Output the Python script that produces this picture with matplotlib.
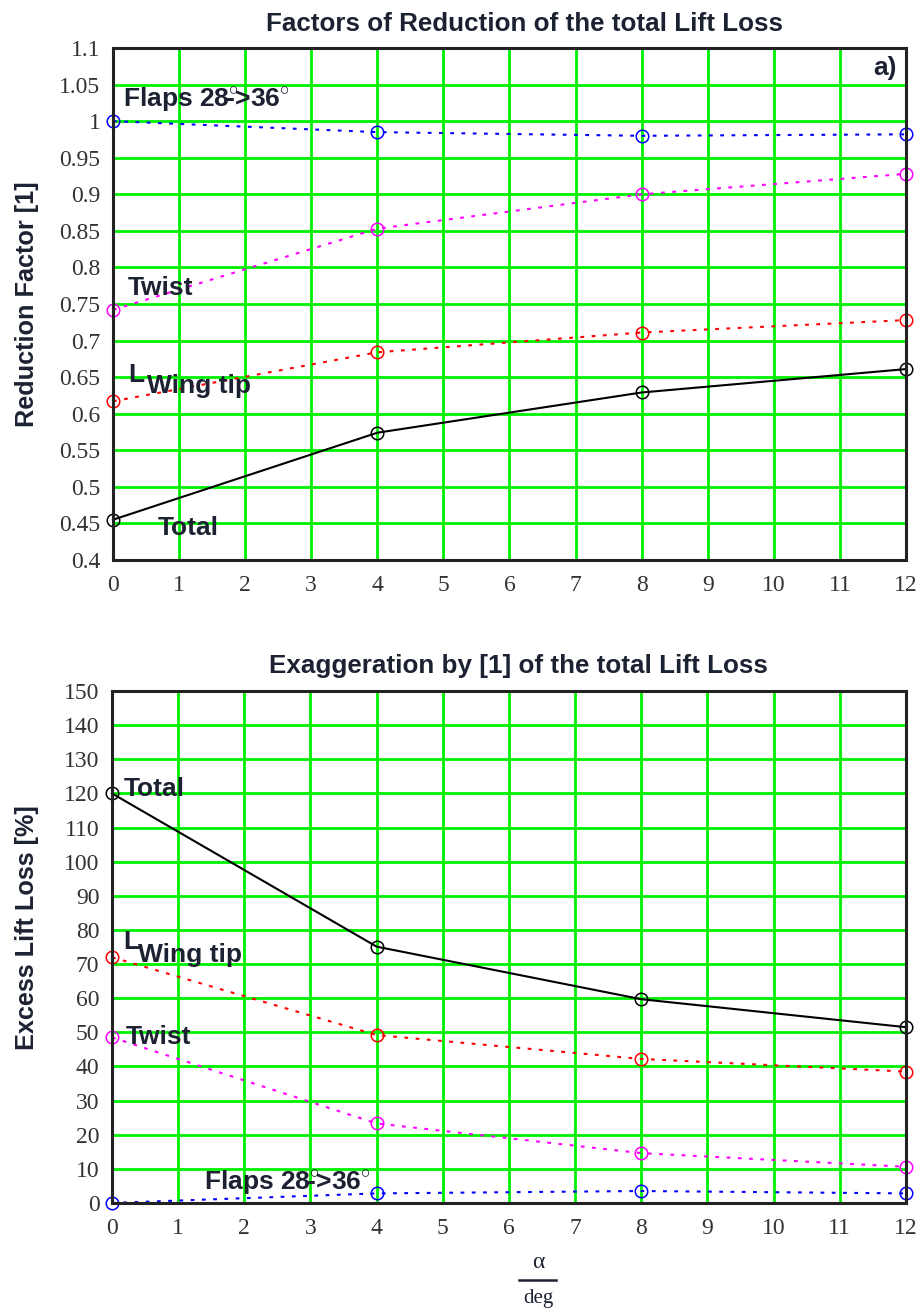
import matplotlib
matplotlib.use("Agg")
import matplotlib.pyplot as plt
from matplotlib.lines import Line2D

# Angle of attack [deg]
alpha = [0, 4, 8, 12]

# Reduction factors of the total lift loss
red_flaps = [1.000, 0.985, 0.980, 0.982]
red_twist = [0.742, 0.853, 0.900, 0.928]
red_tip = [0.617, 0.684, 0.711, 0.728]
red_total = [0.455, 0.574, 0.629, 0.661]

# Excess lift loss [%]
exc_total = [120.0, 75.1, 59.7, 51.5]
exc_tip = [72.0, 49.2, 42.2, 38.5]
exc_twist = [48.5, 23.3, 14.6, 10.6]
exc_flaps = [0.0, 2.8, 3.5, 2.8]

xticks = list(range(0, 13))
top_yticks = [0.4, 0.45, 0.5, 0.55, 0.6, 0.65, 0.7, 0.75, 0.8, 0.85, 0.9, 0.95, 1.0, 1.05, 1.1]
top_ylabels = ["0.4", "0.45", "0.5", "0.55", "0.6", "0.65", "0.7", "0.75", "0.8", "0.85",
               "0.9", "0.95", "1", "1.05", "1.1"]
bot_yticks = list(range(0, 151, 10))

TXT = "#1d2233"
TICK = "#333333"
GRID = "#00f000"
SANS = "Liberation Sans"
SERIF = "Liberation Serif"
W, H = 924, 1316

plt.rcParams["mathtext.fontset"] = "custom"
plt.rcParams["mathtext.rm"] = "Liberation Sans:bold"

fig = plt.figure(figsize=(W / 100, H / 100), dpi=100)
ax1 = fig.add_axes([0.1223, 0.5745, 0.8582, 0.3890])
ax2 = fig.add_axes([0.1212, 0.0859, 0.8593, 0.3890])

dot = (0, (1.8, 3.6))
# small raised degree marks that overlap the following characters
FLAPS = r"Flaps 28$^{\circ}\!\!\!$->36$^{\circ}$"


def series(ax, y, color, ls):
    ax.plot(alpha, y, color=color, linestyle=ls, linewidth=1.5,
            marker="o", markersize=9, markerfacecolor="none",
            markeredgewidth=1.1, clip_on=False, zorder=4)


def style(ax, yticks, ylabels, ylim):
    ax.set_xlim(0, 12)
    ax.set_ylim(*ylim)
    ax.set_xticks(xticks)
    ax.set_xticklabels([str(v) for v in xticks], fontfamily=SERIF, fontsize=17, color=TICK)
    ax.set_yticks(yticks)
    ax.set_yticklabels(ylabels, fontfamily=SERIF, fontsize=17, color=TICK)
    ax.tick_params(axis="x", length=0, pad=11)
    ax.tick_params(axis="y", length=0, pad=9)
    ax.grid(True, color=GRID, linewidth=2.0, zorder=1)
    ax.set_axisbelow(True)
    for s in ax.spines.values():
        s.set_linewidth(2.2)
        s.set_color("#222222")
        s.set_zorder(5)


def ftext(x, y, s, **kw):
    fig.text(x / W, 1 - y / H, s, **kw)


head = dict(fontfamily=SANS, fontweight="bold", fontsize=18.7, color=TXT,
            ha="center", va="baseline")
side = dict(fontfamily=SANS, fontweight="bold", fontsize=18.2, color=TXT,
            ha="center", va="center", rotation=90)
lab = dict(fontfamily=SANS, fontsize=19, fontweight="bold", color=TXT, va="baseline", zorder=6)

# Upper panel: reduction factors
series(ax1, red_flaps, "#0000ff", dot)
series(ax1, red_twist, "#ff00ff", dot)
series(ax1, red_tip, "#ff0000", dot)
series(ax1, red_total, "#000000", "-")
style(ax1, top_yticks, top_ylabels, (0.4, 1.1))
ftext(524, 31, "Factors of Reduction of the total Lift Loss", **head)
ftext(27, 304, "Reduction Factor [1]", **side)

ax1.text(0.15, 1.0197, FLAPS, **lab)
ax1.text(0.23, 0.7623, "Twist", **lab)
ax1.text(0.23, 0.6434, "L", **lab)
ax1.text(0.51, 0.6283, "Wing tip", **lab)
ax1.text(0.67, 0.434, "Total", **lab)
ax1.text(11.86, 1.063, "a)", ha="right", **lab)

# Lower panel: excess lift loss
series(ax2, exc_total, "#000000", "-")
series(ax2, exc_tip, "#ff0000", dot)
series(ax2, exc_twist, "#ff00ff", dot)
series(ax2, exc_flaps, "#0000ff", dot)
style(ax2, bot_yticks, [str(v) for v in bot_yticks], (0, 150))
ftext(518, 673, "Exaggeration by [1] of the total Lift Loss", **head)
ftext(27, 928, "Excess Lift Loss [%]", **side)

ax2.text(0.18, 119.3, "Total", **lab)
ax2.text(0.17, 74.4, "L", **lab)
ax2.text(0.39, 70.7, "Wing tip", **lab)
ax2.text(0.21, 46.6, "Twist", **lab)
ax2.text(1.39, 4.0, FLAPS, **lab)

# x-axis quantity written as a fraction alpha / deg
ftext(538, 1262, "α", fontfamily=SERIF, fontsize=17, color=TXT, ha="center", va="center")
fig.add_artist(Line2D([519 / W, 556 / W], [1 - 1280 / H] * 2, color=TXT, linewidth=1.8))
ftext(538, 1298, "deg", fontfamily=SERIF, fontsize=15, color=TXT, ha="center", va="center")

fig.savefig("out.png", dpi=100, facecolor="white")
